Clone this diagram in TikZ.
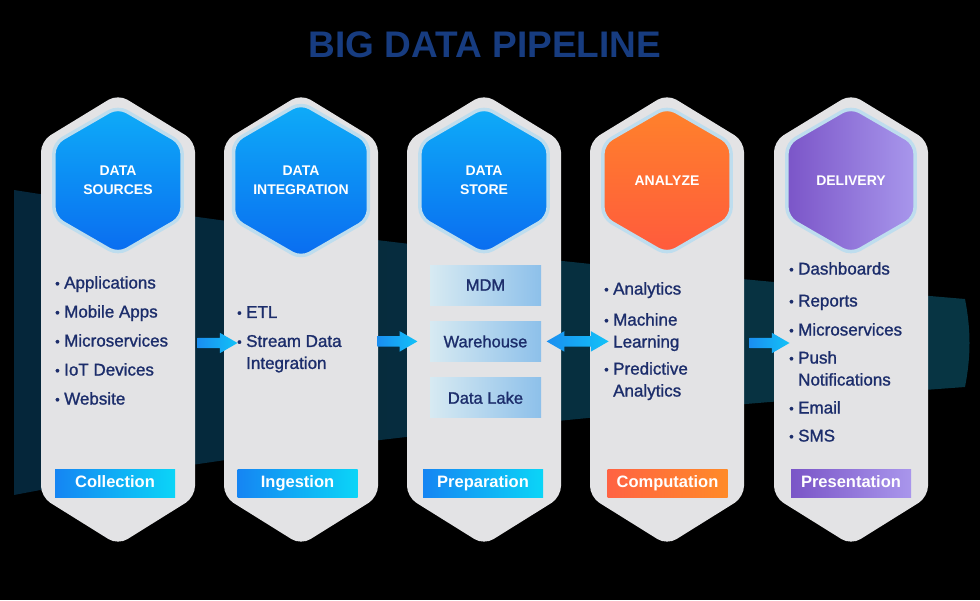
\documentclass[tikz,border=0pt]{standalone}
\usepackage{fontspec}
\setmainfont{Liberation Sans}
\newfontfamily\medfont[FakeBold=1.2]{Liberation Sans}
\usetikzlibrary{positioning,shapes.geometric,shapes.arrows}

\definecolor{navy}{HTML}{1C2D6B}
\definecolor{titleblue}{HTML}{173C80}
\definecolor{panelgray}{HTML}{E3E3E5}
\definecolor{ring}{HTML}{BEDDEE}
\definecolor{bandA}{HTML}{05263A}
\definecolor{bandB}{HTML}{073543}
\definecolor{hexblueA}{HTML}{0EACF8}
\definecolor{hexblueB}{HTML}{0A6CF0}
\definecolor{hexorangeA}{HTML}{FF822B}
\definecolor{hexorangeB}{HTML}{FF5A3D}
\definecolor{hexpurpleA}{HTML}{7B55C8}
\definecolor{hexpurpleB}{HTML}{A897EC}
\definecolor{storeA}{HTML}{D7EAF2}
\definecolor{storeB}{HTML}{8DC0EA}
\definecolor{flowA}{HTML}{1A8EF0}
\definecolor{flowB}{HTML}{12C2F8}
\definecolor{stageblueA}{HTML}{1585F3}
\definecolor{stageblueB}{HTML}{0BD5F7}
\definecolor{stageorangeA}{HTML}{FF6343}
\definecolor{stageorangeB}{HTML}{FF8A28}
\definecolor{stagepurpleA}{HTML}{7A55C7}
\definecolor{stagepurpleB}{HTML}{A996EC}

\newcommand{\itemdot}{\makebox[9pt][l]{\raisebox{0.5pt}{\fontsize{13}{13}\selectfont\textbullet}}}
\newcommand{\itemind}{\hspace*{9pt}}

\begin{document}
\begin{tikzpicture}[x=1pt, y=-1pt,
    hex/.style={regular polygon, regular polygon sides=6, shape border rotate=30, minimum size=148pt, inner sep=0pt, draw=ring, line width=3.5pt, rounded corners=10pt, align=center, text=white, font=\bfseries\fontsize{14}{19}\selectfont},
    panel/.style={fill=panelgray, rounded corners=11pt},
    list/.style={anchor=north west, inner sep=0pt, align=left, text=navy, font=\medfont\fontsize{17}{29}\selectfont},
    store/.style={minimum width=111pt, minimum height=40pt, inner sep=0pt, left color=storeA, right color=storeB, text=navy, font=\medfont\fontsize{16.5}{20}\selectfont},
    stage/.style={minimum width=120pt, minimum height=28pt, inner sep=0pt, text height=12pt, text depth=3.5pt, text=white, font=\bfseries\fontsize{16.5}{20}\selectfont},
    flow/.style={single arrow, single arrow head extend=5pt, single arrow tip angle=60, inner xsep=0pt, inner ysep=5pt, minimum height=40pt, left color=flowA, right color=flowB},
    flowboth/.style={double arrow, double arrow head extend=5pt, double arrow tip angle=60, inner xsep=0pt, inner ysep=5pt, minimum height=62pt, left color=flowA, right color=flowB}]

    % Background
    \useasboundingbox (0,0) rectangle (980,600);
    \fill[black] (0,0) rectangle (980,600);
    \shade[left color=bandA, right color=bandB] (14,190) .. controls (300,235) and (600,268) .. (965,299) .. controls (971,330) and (971,356) .. (965,387) .. controls (650,410) and (300,440) .. (14,495) -- cycle;

    % Title
    \node[font=\bfseries\fontsize{37}{40}\selectfont, text=titleblue] (title) at (485,45) {BIG DATA PIPELINE};

    % Panels
    \fill[panel] (118,94) -- (195,141) -- (195,497) -- (118,545) -- (41,497) -- (41,141) -- cycle;
    \fill[panel] (301,94) -- (378,141) -- (378,497) -- (301,545) -- (224,497) -- (224,141) -- cycle;
    \fill[panel] (484,94) -- (561,141) -- (561,497) -- (484,545) -- (407,497) -- (407,141) -- cycle;
    \fill[panel] (667,94) -- (744,141) -- (744,497) -- (667,545) -- (590,497) -- (590,141) -- cycle;
    \fill[panel] (851,94) -- (928,141) -- (928,497) -- (851,545) -- (774,497) -- (774,141) -- cycle;

    % Stage hexagons
    \node[hex, top color=hexblueA, bottom color=hexblueB] (sources) at (118,180.5) {DATA\\SOURCES};
    \node[hex, top color=hexblueA, bottom color=hexblueB] (integration) at (301,180.5) {DATA\\INTEGRATION};
    \node[hex, top color=hexblueA, bottom color=hexblueB] (datastore) at (484,180.5) {DATA\\STORE};
    \node[hex, top color=hexorangeA, bottom color=hexorangeB] (analyze) at (667,180.5) {ANALYZE};
    \node[hex, left color=hexpurpleA, right color=hexpurpleB] (delivery) at (851,180.5) {DELIVERY};

    % Item lists
    \node[list] (sourcelist) at (55,276) {\itemdot Applications\\ \itemdot Mobile Apps\\ \itemdot Microservices\\ \itemdot IoT Devices\\ \itemdot Website};
    \node[list] (ingestlist) at (237,306) {\itemdot ETL\\ \itemdot Stream Data\\[-7pt] \itemind Integration};
    \node[list] (analyzelist) at (604,282) {\itemdot Analytics\\[2pt] \itemdot Machine\\[-7pt] \itemind Learning\\[-2pt] \itemdot Predictive\\[-7pt] \itemind Analytics};
    \node[list] (deliverlist) at (789,262) {\itemdot Dashboards\\[3pt] \itemdot Reports\\ \itemdot Microservices\\[-1pt] \itemdot Push\\[-7pt] \itemind Notifications\\[-1pt] \itemdot Email\\[-1pt] \itemdot SMS};

    % Storage boxes
    \node[store] (mdm) at (485.5,285) {MDM};
    \node[store, below=16pt of mdm] (warehouse) {Warehouse};
    \node[store, below=16pt of warehouse] (datalake) {Data Lake};

    % Stage labels
    \node[stage, left color=stageblueA, right color=stageblueB] (collection) at (115,483) {Collection};
    \node[stage, left color=stageblueA, right color=stageblueB] (ingestion) at (297.5,483) {Ingestion};
    \node[stage, left color=stageblueA, right color=stageblueB] (preparation) at (483,483) {Preparation};
    \node[stage, left color=stageorangeA, right color=stageorangeB] (computation) at (667.5,483) {Computation};
    \node[stage, left color=stagepurpleA, right color=stagepurpleB] (presentation) at (851,483) {Presentation};

    % Flow arrows
    \node[flow] (flowone) at (213,343) {};
    \node[flow, left=12pt of warehouse] (flowtwo) {};
    \node[flowboth, right=5pt of warehouse] (flowthree) {};
    \node[flow] (flowfour) at (765,343) {};
\end{tikzpicture}
\end{document}
